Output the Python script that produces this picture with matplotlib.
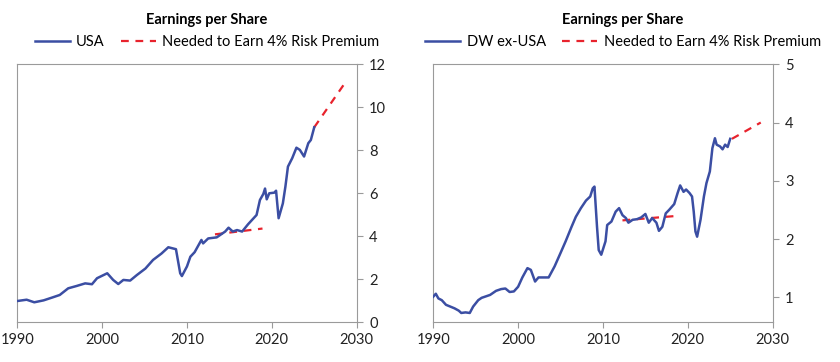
import numpy as np
import matplotlib
matplotlib.use("Agg")
import matplotlib.pyplot as plt

plt.rcParams['font.family'] = ['Lato', 'DejaVu Sans']

# USA earnings per share (indexed, 1990 = 1)
usa_year = [1990.0, 1991.1, 1992.0, 1993.1, 1994.1, 1995.0, 1996.0, 1997.0, 1998.0, 1998.8,
            1999.4, 2000.6, 2001.3, 2001.9, 2002.5, 2003.3, 2004.1, 2005.1, 2006.0, 2007.0,
            2007.8, 2008.7, 2009.2, 2009.4, 2010.0, 2010.4, 2010.9, 2011.7, 2011.9, 2012.5,
            2013.5, 2014.5, 2014.9, 2015.4, 2015.9, 2016.5, 2017.2, 2018.2, 2018.6, 2019.0,
            2019.2, 2019.4, 2019.7, 2020.3, 2020.5, 2020.8, 2021.3, 2021.6, 2021.9, 2022.4,
            2022.9, 2023.3, 2023.8, 2024.3, 2024.6, 2025.0]
usa_eps = [0.99, 1.05, 0.93, 1.02, 1.15, 1.27, 1.58, 1.69, 1.81, 1.77,
           2.05, 2.28, 1.97, 1.78, 1.97, 1.94, 2.20, 2.50, 2.90, 3.20,
           3.49, 3.40, 2.28, 2.15, 2.60, 3.05, 3.26, 3.83, 3.67, 3.90,
           3.95, 4.22, 4.40, 4.22, 4.29, 4.22, 4.56, 4.99, 5.69, 5.97,
           6.22, 5.72, 6.00, 6.03, 6.12, 4.84, 5.53, 6.31, 7.24, 7.63,
           8.12, 8.02, 7.71, 8.33, 8.48, 9.07]
usa_need1_year = [2013.3, 2018.9]
usa_need1 = [4.09, 4.36]
usa_need2_year = [2025.0, 2028.6]
usa_need2 = [9.07, 11.12]

# DW ex-USA earnings per share
ex_year = [1990.0, 1990.3, 1990.6, 1991.0, 1991.5, 1992.0, 1992.5, 1993.0, 1993.3, 1993.8,
           1994.3, 1994.7, 1995.3, 1995.7, 1996.3, 1996.7, 1997.4, 1998.0, 1998.5, 1999.0,
           1999.5, 2000.0, 2000.5, 2001.1, 2001.5, 2002.0, 2002.4, 2003.0, 2003.6, 2004.3,
           2005.0, 2005.6, 2006.3, 2006.8, 2007.4, 2008.0, 2008.5, 2008.8, 2009.0, 2009.3,
           2009.5, 2009.8, 2010.3, 2010.5, 2011.0, 2011.5, 2011.9, 2012.3, 2012.7, 2013.0,
           2013.5, 2014.0, 2014.5, 2015.0, 2015.4, 2015.8, 2016.3, 2016.6, 2017.0, 2017.4,
           2017.8, 2018.4, 2018.8, 2019.1, 2019.5, 2019.8, 2020.2, 2020.5, 2020.7, 2020.9,
           2021.1, 2021.5, 2021.9, 2022.2, 2022.6, 2022.9, 2023.2, 2023.4, 2023.8, 2024.1,
           2024.4, 2024.7, 2025.0]
ex_eps = [1.01, 1.06, 0.98, 0.95, 0.87, 0.84, 0.81, 0.77, 0.73, 0.74,
          0.73, 0.84, 0.95, 0.99, 1.02, 1.04, 1.11, 1.14, 1.15, 1.09,
          1.10, 1.18, 1.34, 1.50, 1.47, 1.27, 1.34, 1.34, 1.34, 1.53,
          1.76, 1.96, 2.21, 2.38, 2.53, 2.66, 2.73, 2.87, 2.90, 2.21,
          1.81, 1.73, 1.96, 2.24, 2.30, 2.47, 2.53, 2.41, 2.36, 2.28,
          2.33, 2.34, 2.37, 2.43, 2.28, 2.36, 2.28, 2.14, 2.21, 2.44,
          2.50, 2.60, 2.79, 2.92, 2.81, 2.85, 2.79, 2.73, 2.47, 2.13,
          2.04, 2.33, 2.73, 2.96, 3.16, 3.56, 3.73, 3.62, 3.59, 3.54,
          3.62, 3.58, 3.72]
ex_need1_year = [2012.3, 2019.0]
ex_need1 = [2.32, 2.40]
ex_need2_year = [2025.2, 2028.6]
ex_need2 = [3.72, 4.00]

BLUE = '#3b4ea3'
RED = '#e8232d'
GREY = '#9a9a9a'


def panel(fig, ax, year, eps, n1x, n1y, n2x, n2y, label, ylim, yticks, xc):
  ax.plot(n1x, n1y, color=RED, lw=1.6, ls=(0, (3.5, 3)), zorder=2)
  ax.plot(n2x, n2y, color=RED, lw=1.6, ls=(0, (3.5, 3)), zorder=2,
          label='Needed to Earn 4% Risk Premium')
  ax.plot(year, eps, color=BLUE, lw=1.8, zorder=3, label=label)
  ax.set_xlim(1990, 2030)
  ax.set_ylim(*ylim)
  ax.set_xticks([1990, 2000, 2010, 2020, 2030])
  ax.set_yticks(yticks)
  ax.yaxis.tick_right()
  for s in ax.spines.values():
    s.set_color(GREY)
    s.set_linewidth(0.8)
  ax.tick_params(axis='both', colors=GREY, labelcolor='#222222', labelsize=10.5,
                 length=4, width=0.8, direction='out')
  ax.tick_params(axis='y', pad=5)
  fig.text(xc, 1 - 20 / 362, 'Earnings per Share', fontsize=10.5, fontweight='bold',
           ha='center', va='center')
  h, l = ax.get_legend_handles_labels()
  ax.legend(h[::-1], l[::-1], loc='center', bbox_to_anchor=(xc, 1 - 42 / 362),
            bbox_transform=fig.transFigure, ncol=2, frameon=False, fontsize=10.5,
            handlelength=2.4, columnspacing=1.1, borderaxespad=0, handletextpad=0.45)


fig = plt.figure(figsize=(8.4, 3.62), dpi=100)
ax1 = fig.add_axes([0.0206, 0.1097, 0.404, 0.7127])
ax2 = fig.add_axes([0.5158, 0.1097, 0.404, 0.7127])

panel(fig, ax1, usa_year, usa_eps, usa_need1_year, usa_need1, usa_need2_year, usa_need2,
      'USA', (0, 12), [0, 2, 4, 6, 8, 10, 12], 207 / 840)
panel(fig, ax2, ex_year, ex_eps, ex_need1_year, ex_need1, ex_need2_year, ex_need2,
      'DW ex-USA', (0.57, 5), [1, 2, 3, 4, 5], 623 / 840)

fig.savefig('out.png', dpi=100)
